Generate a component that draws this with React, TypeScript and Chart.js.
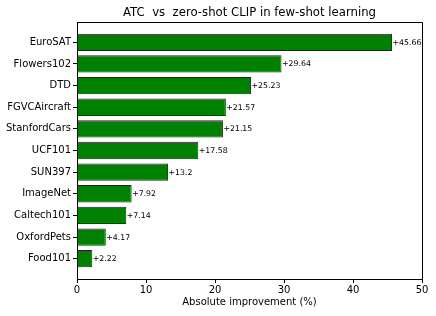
import React, { useEffect, useRef } from "react";
import { Chart, registerables } from "chart.js";

Chart.register(...registerables);

const categories = ["EuroSAT", "Flowers102", "DTD", "FGVCAircraft", "StanfordCars", "UCF101", "SUN397", "ImageNet", "Caltech101", "OxfordPets", "Food101"];
const improvements = [45.66, 29.64, 25.23, 21.57, 21.15, 17.58, 13.2, 7.92, 7.14, 4.17, 2.22];
const valueLabels = ["+45.66", "+29.64", "+25.23", "+21.57", "+21.15", "+17.58", "+13.2", "+7.92", "+7.14", "+4.17", "+2.22"];
const xTicks = [0, 10, 20, 30, 40, 50];
const titleText = "ATC  vs  zero-shot CLIP in few-shot learning";
const xLabel = "Absolute improvement (%)";

const FONT = "'DejaVu Sans', sans-serif";

const decor = {
  id: "decor",
  afterDatasetsDraw(chart: any) {
    const ctx = chart.ctx;
    const area = chart.chartArea;
    const meta = chart.getDatasetMeta(0);
    ctx.save();
    ctx.fillStyle = "#000";
    ctx.font = `7.8px ${FONT}`;
    ctx.textAlign = "left";
    ctx.textBaseline = "middle";
    meta.data.forEach((bar: any, i: number) => {
      ctx.fillText(valueLabels[i], bar.x + 0.5, bar.y + 0.5);
    });
    ctx.strokeStyle = "#000";
    ctx.lineWidth = 1;
    ctx.beginPath();
    ctx.moveTo(area.left, area.top + 0.5);
    ctx.lineTo(area.right + 0.5, area.top + 0.5);
    ctx.lineTo(area.right + 0.5, area.bottom);
    ctx.stroke();
    ctx.font = `11.7px ${FONT}`;
    ctx.textAlign = "center";
    ctx.textBaseline = "middle";
    ctx.fillText(titleText, (area.left + area.right) / 2, 12.5);
    ctx.restore();
  },
};

export default function App() {
  const ref = useRef<HTMLCanvasElement>(null);
  useEffect(() => {
    if (!ref.current) return;
    const chart = new Chart(ref.current, {
      type: "bar",
      data: {
        datasets: [
          {
            data: improvements.map((v, i) => ({ x: v, y: i })),
            backgroundColor: "#008000",
            borderColor: "#222",
            borderWidth: 1,
            barPercentage: 0.8,
            categoryPercentage: 1,
          },
        ],
      },
      options: {
        indexAxis: "y",
        animation: false,
        responsive: false,
        layout: { padding: { top: 22, right: 14, left: 0, bottom: 0 } },
        plugins: { legend: { display: false }, title: { display: false }, tooltip: { enabled: false } },
        scales: {
          x: {
            type: "linear",
            min: 0,
            max: 50,
            afterFit: (s: any) => { s.height = 37; },
            afterBuildTicks: (s: any) => { s.ticks = xTicks.map((v) => ({ value: v })); },
            ticks: { color: "#000", font: { size: 10, family: FONT }, padding: 1, maxRotation: 0 },
            grid: { display: true, drawOnChartArea: false, tickLength: 4, tickColor: "#000" },
            border: { display: true, color: "#000", width: 1 },
            title: { display: true, text: xLabel, color: "#000", font: { size: 10, family: FONT }, padding: { top: 1, bottom: 8 } },
          },
          y: {
            type: "linear",
            min: -0.94,
            max: 10.94,
            reverse: true,
            offset: false,
            afterFit: (s: any) => { s.width = 77; },
            afterBuildTicks: (s: any) => { s.ticks = categories.map((_, i) => ({ value: i })); },
            ticks: {
              color: "#000",
              font: { size: 10, family: FONT },
              padding: 2,
              callback: (v: any) => categories[Math.round(Number(v))] ?? "",
            },
            grid: { display: true, drawOnChartArea: false, offset: false, tickLength: 4, tickColor: "#000" },
            border: { display: true, color: "#000", width: 1 },
          },
        },
      },
      plugins: [decor],
    } as any);
    return () => chart.destroy();
  }, []);
  return (
    <div style={{ position: "fixed", left: 0, top: 0, width: 436, height: 316, background: "#fff" }}>
      <canvas ref={ref} width={436} height={316} style={{ width: 436, height: 316 }} />
    </div>
  );
}
